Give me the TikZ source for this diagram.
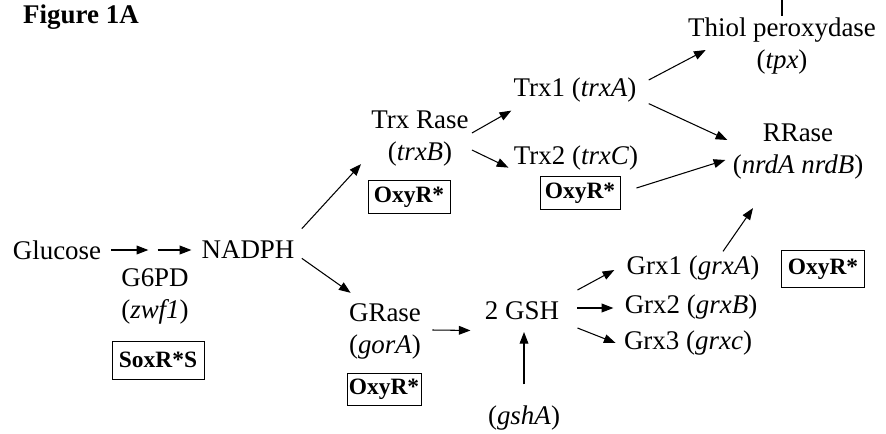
\documentclass[tikz,border=0pt]{standalone}
\usepackage{fontspec}
\setmainfont{Liberation Serif}
\usetikzlibrary{arrows.meta, calc}

\begin{document}
\begin{tikzpicture}[
  x=0.3mm, y=-0.3mm,
    txt/.style={
        inner sep=1pt,
        align=center,
        font=\fontsize{23}{27.3}\selectfont
    },
    reg/.style={
        draw,
        line width=0.8pt,
        inner sep=0pt,
        font=\fontsize{20}{22}\selectfont\bfseries,
        minimum width=2.4cm,
        minimum height=1cm
    },
    arrow/.style={
        -{Triangle[length=10pt,width=7.5pt]},
        line width=0.9pt
    }
]
\useasboundingbox (0,0) rectangle (886,433);

\node[txt, font=\fontsize{23}{27}\selectfont\bfseries] (fig) at (81,17) {Figure 1A};

\node[txt] (tpx) at (782,46) {Thiol peroxydase\\(\textit{tpx})};
\coordinate (up) at (782,0);
\draw[line width=0.9pt] (up) -- (up |- tpx.north);

\node[txt] (trx1) at (575,90) {Trx1 (\textit{trxA})};
\node[txt] (trxrase) at (420,139) {Trx Rase\\(\textit{trxB})};
\node[reg, minimum width=2.46cm] (oxytrxb) at (409,197) {OxyR*};
\node[txt] (trx2) at (576,158) {Trx2 (\textit{trxC})};
\node[reg] (oxytrxc) at (580,193) {OxyR*};
\node[txt] (rrase) at (798,152) {RRase\\(\textit{nrdA nrdB})};

\node[txt] (glucose) at (57,250) {Glucose};
\coordinate (step) at (153,250);
\node[txt] (nadph) at (248,250) {NADPH};
\node[txt] (g6pd) at (155,296) {G6PD\\(\textit{zwf1})};
\node[reg, minimum width=2.76cm, minimum height=1.14cm] (soxrs) at (158,360) {SoxR*S};

\node[txt] (grase) at (385,331) {GRase\\(\textit{gorA})};
\node[reg, minimum width=2.22cm, minimum height=0.96cm] (oxygora) at (384,389) {OxyR*};
\node[txt] (gsh) at (522,311) {2 GSH};
\node[txt] (gsha) at (524,418) {(\textit{gshA})};
\node[txt] (grx1) at (693,268) {Grx1 (\textit{grxA})};
\node[txt] (grx2) at (691,307) {Grx2 (\textit{grxB})};
\node[txt] (grx3) at (688,343) {Grx3 (\textit{grxc})};
\node[reg, minimum width=2.49cm, minimum height=1.11cm] (oxygrx) at (823,269) {OxyR*};

% glucose branch
\draw[arrow, shorten <=7.5pt, shorten >=4pt] (glucose) -- (step);
\draw[arrow, shorten <=4pt, shorten >=7.5pt] (step) -- (nadph);
\draw[arrow] ($(nadph.north east)+(6,-11)$) -- ($(trxrase.south west)+(-9,-4)$);
\draw[arrow] ($(nadph.south east)+(6,-2)$) -- ($(grase.north west)+(3,-9)$);

% thioredoxin branch
\draw[arrow] ($(trxrase.east)+(2,-6)$) -- ($(trx1.south west)+(-1,7)$);
\draw[arrow] ($(trxrase.east)+(2,11)$) -- ($(trx2.south west)+(-4,-4)$);
\draw[arrow] ($(trx1.east)+(11,-10)$) -- ($(tpx.west)+(19,4)$);
\draw[arrow] ($(trx1.south east)+(11,0)$) -- ($(rrase.west)+(-4,-12)$);
\draw[arrow] ($(oxytrxc.east)+(16,-5)$) -- ($(rrase.west)+(-6,8)$);

% glutathione branch
\draw[arrow] ($(grase.east)+(10,-1)$) -- ($(gsh.south west)+(-13,9)$);
\draw[arrow, shorten <=17pt, shorten >=9pt] (gsha.north) -- (gsha.north |- gsh.south);
\draw[arrow] ($(gsh.east)+(17,-21)$) -- ($(grx1.west)+(-11,2)$);
\draw[arrow] ($(gsh.east)+(17,-3)$) -- ($(grx2.west)+(-10,1)$);
\draw[arrow] ($(gsh.east)+(17,17)$) -- ($(grx3.west)+(-7,0)$);
\draw[arrow] ($(grx1.north)+(30,-3)$) -- ($(rrase.south)+(-45,27)$);

\end{tikzpicture}
\end{document}
